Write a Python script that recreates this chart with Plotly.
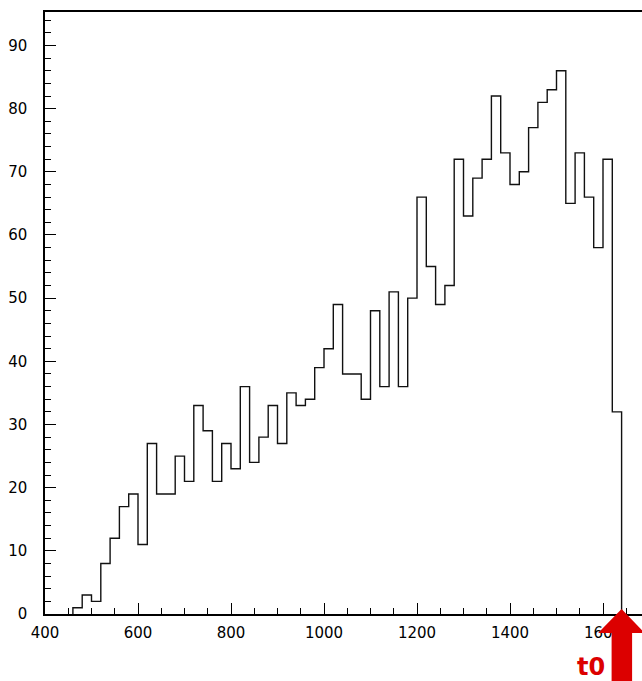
import plotly.graph_objects as go

# Histogram: 20-unit bins starting at 460
bin_width = 20
first_edge = 460
counts = [1, 3, 2, 8, 12, 17, 19, 11, 27, 19,
          19, 25, 21, 33, 29, 21, 27, 23, 36, 24,
          28, 33, 27, 35, 33, 34, 39, 42, 49, 38,
          38, 34, 48, 36, 51, 36, 50, 66, 55, 49,
          52, 72, 63, 69, 72, 82, 73, 68, 70, 77,
          81, 83, 86, 65, 73, 66, 58, 72, 32]
t0 = 1640

x_ticks = [400, 600, 800, 1000, 1200, 1400, 1600]
y_ticks = [0, 10, 20, 30, 40, 50, 60, 70, 80, 90]

W, H = 642, 681
ml, mt, mb = 45, 12, 67
plot_w = W - ml
plot_h = H - mt - mb
px_per_unit_x = 0.465
x_min = 400
x_max = x_min + plot_w / px_per_unit_x
y_max = 95.3

lefts = [first_edge + i * bin_width for i in range(len(counts))]
last_edge = lefts[-1] + bin_width
xs = [first_edge] + lefts + [last_edge]
ys = [0] + counts + [0]

fig = go.Figure()
fig.add_trace(go.Scatter(
    x=xs, y=ys, mode="lines", line=dict(shape="hv", color="#111111", width=1.4),
    hoverinfo="skip", showlegend=False,
))

red = "#dc0000"
# arrow marking t0, drawn in paper coordinates derived from the x axis
ax = (t0 - x_min) / (x_max - x_min)
def fx(dpx):
    return ax + dpx / plot_w
def fy(py):
    return (H - mb - py) / plot_h

tip = 609
head_base = 633
bottom = H + 5
path = (f"M {fx(0)},{fy(tip)} L {fx(23)},{fy(head_base)} L {fx(10.5)},{fy(head_base)} "
        f"L {fx(10.5)},{fy(bottom)} L {fx(-10)},{fy(bottom)} L {fx(-10)},{fy(head_base)} "
        f"L {fx(-23.5)},{fy(head_base)} Z")
fig.add_shape(type="path", path=path, xref="paper", yref="paper",
              fillcolor=red, line=dict(width=0), layer="above")
fig.add_annotation(text="<b>t0</b>", xref="paper", yref="paper",
                   x=fx(-15), y=fy(667), xanchor="right", yanchor="middle",
                   showarrow=False,
                   font=dict(family="DejaVu Sans", size=24, color=red))

axis_common = dict(
    showgrid=False, zeroline=False, showline=True, linecolor="black", linewidth=1.5,
    ticks="inside", tickcolor="black", tickwidth=1.3, ticklen=11,
    tickfont=dict(family="DejaVu Sans", size=15, color="black"),
)
fig.update_xaxes(range=[x_min, x_max], tickvals=x_ticks, mirror=True,
                 minor=dict(dtick=50, tick0=0, ticks="inside", ticklen=6,
                            tickcolor="black", tickwidth=1.3),
                 ticklabelstandoff=4, **axis_common)
fig.update_yaxes(range=[0, y_max], tickvals=y_ticks,
                 minor=dict(dtick=2, tick0=0, ticks="inside", ticklen=6,
                            tickcolor="black", tickwidth=1.3),
                 ticklabelstandoff=13, **axis_common)
fig.update_layout(
    width=W, height=H, margin=dict(l=ml, r=0, t=mt, b=mb),
    paper_bgcolor="white", plot_bgcolor="white",
)
fig.write_html("out.html")
